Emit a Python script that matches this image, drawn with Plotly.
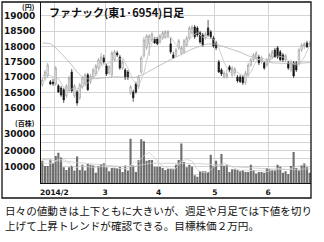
import plotly.graph_objects as go
import pandas as pd

# ---------------- data ----------------
holidays = ["2014-02-11", "2014-03-21", "2014-04-29", "2014-05-05", "2014-05-06"]
dates = [d for d in pd.bdate_range("2014-01-27", "2014-06-23")
         if d.strftime("%Y-%m-%d") not in holidays]

opens = [16750, 16950, 17040, 16850, 16840, 16780, 16720, 16650, 16590, 16390,
         16560, 17170, 16390, 16520, 16330, 16690, 16780, 17080, 16850, 17010,
         17110, 17300, 17440, 17630, 17370, 17140, 17080, 17570, 17790, 17660,
         17300, 17240, 17170, 16490, 16520, 16780, 16690, 17170, 17700, 17960,
         18090, 18220, 18250, 18250, 18150, 18280, 18320, 18350, 18090, 17730,
         17730, 17960, 17790, 17830, 18050, 18280, 18450, 18640, 18610, 18450,
         18380, 18280, 18610, 18480, 18280, 18120, 17500, 17240, 17010, 17010,
         17340, 17080, 17140, 17010, 17010, 17010, 16820, 17080, 17400, 17570,
         17630, 17660, 17500, 17470, 17400, 17570, 17660, 17890, 17960, 17830,
         17730, 17570, 17470, 17240, 17470, 17470, 17470, 17890, 18020, 18120,
         18050]
highs = [16980, 17240, 17470, 16910, 16950, 17370, 16780, 16720, 16650, 16780,
         17040, 17270, 16780, 16590, 16820, 17040, 17140, 17140, 17110, 17300,
         17440, 17630, 17790, 17730, 17440, 17400, 17860, 17890, 17860, 17730,
         17570, 17300, 17240, 16750, 16590, 16850, 17080, 17700, 18320, 18410,
         18410, 18480, 18320, 18320, 18410, 18510, 18540, 18540, 18280, 17830,
         17960, 18250, 18020, 18250, 18350, 18670, 18710, 18710, 18670, 18510,
         18450, 18480, 18870, 18540, 18350, 18190, 17570, 17300, 17210, 17240,
         17400, 17370, 17340, 17080, 17080, 17080, 17210, 17470, 17630, 17790,
         17860, 17730, 17700, 17530, 17630, 17790, 17890, 17960, 18020, 17890,
         17790, 17760, 17530, 17570, 17530, 17530, 17960, 18120, 18150, 18190,
         18190]
lows = [16690, 16880, 16980, 16750, 16720, 16720, 16490, 16360, 16160, 16330,
        16490, 16490, 16330, 16070, 16260, 16620, 16720, 16560, 16780, 16950,
        17040, 17240, 17370, 17440, 17040, 17080, 16980, 17500, 17660, 17240,
        17240, 16910, 16910, 16420, 16200, 16460, 16620, 17110, 17630, 17890,
        17700, 18150, 18090, 18050, 18090, 18220, 18250, 18280, 17760, 17600,
        17660, 17890, 17730, 17760, 17990, 18220, 18380, 18250, 18320, 18090,
        17990, 18220, 18320, 18250, 17960, 17890, 17140, 17040, 16950, 16950,
        17170, 17010, 17040, 16820, 16820, 16750, 16750, 17010, 17340, 17500,
        17570, 17400, 17440, 17240, 17340, 17500, 17600, 17630, 17600, 17530,
        17500, 17500, 17240, 17170, 16980, 17170, 17400, 17830, 17920, 17960,
        17990]
closes = [16910, 17170, 17400, 16780, 16790, 17300, 16520, 16420, 16260, 16720,
          16980, 16560, 16720, 16160, 16750, 16980, 17080, 16590, 17040, 17240,
          17370, 17570, 17660, 17500, 17110, 17340, 17790, 17830, 17730, 17300,
          17500, 16980, 16980, 16690, 16330, 16520, 17010, 17630, 18220, 18350,
          18350, 18410, 18120, 18090, 18350, 18450, 18480, 18480, 17830, 17630,
          17890, 18190, 17960, 18190, 18280, 18610, 18640, 18320, 18380, 18150,
          18050, 18410, 18380, 18320, 18020, 17960, 17170, 17110, 17140, 17110,
          17240, 17300, 17270, 16880, 16850, 16820, 17140, 17400, 17570, 17730,
          17790, 17470, 17630, 17300, 17570, 17730, 17830, 17660, 17660, 17570,
          17570, 17700, 17300, 17500, 17040, 17240, 17890, 18050, 18090, 17990,
          18120]
volumes = [13700, 10400, 10400, 14500, 12100, 16600, 18600, 15700, 9600, 8000,
           9600, 10400, 7600, 16200, 8000, 11200, 7600, 11700, 11200, 10800,
           6300, 10400, 11700, 12100, 9600, 7200, 9200, 9200, 9200, 10000,
           6700, 10800, 7600, 27200, 10800, 6700, 14100, 26800, 25600, 13700,
           14100, 14100, 10000, 10000, 10000, 9200, 8000, 8800, 8800, 8400,
           11200, 14100, 24300, 12900, 9600, 11200, 10000, 4700, 3900, 7200,
           7200, 7200, 6700, 17400, 10400, 13700, 8000, 17800, 10400, 11200,
           6700, 8400, 8400, 8000, 7200, 8000, 6700, 6700, 11200, 8000,
           5900, 6700, 6700, 6300, 9200, 8400, 8000, 7600, 11200, 10000,
           6300, 7200, 5500, 10400, 19000, 9200, 7600, 10800, 12100, 9600,
           6300]

# moving averages (day index, value)
ma25_day = [0, 3, 5, 7, 9, 11, 13, 15, 17, 20, 23, 26, 29, 32, 35, 38, 41, 44, 47,
            50, 53, 56, 59, 62, 65, 68, 71, 74, 77, 80, 83, 86, 89, 92, 95, 98, 100]
ma25_val = [18120, 18100, 17960, 17790, 17600, 17400, 17170, 17010, 16950, 16950,
            16980, 17010, 17010, 16990, 17000, 17100, 17250, 17400, 17530,
            17660, 17800, 17920, 18020, 18090, 18080, 17990, 17900, 17820, 17700,
            17610, 17520, 17470, 17450, 17450, 17450, 17460, 17480]
ma5_day = list(range(0, 101, 2))
ma5_val = [17050, 17100, 17010, 16960, 16660, 16580, 16650, 16630, 16740, 16890,
           17060, 17380, 17440, 17480, 17560, 17630, 17300, 16900, 16710, 17140,
           17910, 18290, 18260, 18300, 18320, 18060, 17900, 18100, 18340, 18450,
           18310, 18270, 18240, 17970, 17480, 17150, 17210, 17110, 16990, 17160,
           17530, 17640, 17550, 17610, 17690, 17660, 17560, 17420, 17390, 17660,
           18030]
vma5_day = list(range(0, 101, 2))
vma5_val = [12500, 12000, 12220, 14440, 14520, 12300, 9040, 10360, 10120, 9940,
            9520, 10080, 10020, 9960, 8880, 8860, 8860, 12620, 13280, 16800,
            18860, 15500, 11640, 9440, 8960, 9040, 13360, 14420, 13600, 7880,
            6600, 6440, 9780, 11240, 12060, 10820, 9020, 7740, 7660, 7960,
            7700, 7700, 6960, 7720, 8880, 8620, 8040, 9680, 10340, 11740, 9280]
vma25_day = [0, 5, 10, 15, 20, 25, 30, 35, 40, 45, 50, 55, 60, 65, 70, 75, 80, 85, 90, 95, 100]
vma25_val = [14500, 13800, 13000, 12300, 11500, 10800, 10000, 10300, 12000, 12100,
             12200, 12000, 11800, 11000, 10000, 9600, 9100, 8600, 8300, 8400, 8700]

price_ticks = [16000, 16500, 17000, 17500, 18000, 18500, 19000]
price_labels = ["16000", "16500", "17000", "17500", "18000", "18500", "19000"]
vol_ticks = [5000, 10000, 15000, 20000, 25000, 30000, 35000, 40000]
vol_labels = ["", "10000", "", "20000", "", "30000", "", ""]

title_text = "ファナック(東1·6954)日足"
caption_1 = "日々の値動きは上下ともに大きいが、週足や月足では下値を切り"
caption_2 = "上げて上昇トレンドが確認できる。目標株価２万円。"

# ---------------- figure ----------------
x = list(range(len(dates)))
month_pos, month_txt = [], []
for i in range(1, len(dates)):
    if dates[i].month != dates[i - 1].month:
        month_pos.append(i - 0.5)
        month_txt.append(f"{dates[i].year}/{dates[i].month}" if not month_txt else str(dates[i].month))

fig = go.Figure()
fig.add_trace(go.Candlestick(
    x=x, open=opens, high=highs, low=lows, close=closes,
    increasing=dict(line=dict(color="#9a9a9a", width=0.7), fillcolor="#ffffff"),
    decreasing=dict(line=dict(color="#151515", width=0.7), fillcolor="#151515"),
    whiskerwidth=0, yaxis="y", showlegend=False, hoverinfo="skip"))
fig.add_trace(go.Scatter(x=ma25_day, y=ma25_val, mode="lines",
                         line=dict(color="#b4b4b4", width=0.8), yaxis="y", hoverinfo="skip"))
fig.add_trace(go.Scatter(x=ma5_day, y=ma5_val, mode="lines",
                         line=dict(color="#c4c4c4", width=0.8), yaxis="y", hoverinfo="skip"))
fig.add_trace(go.Bar(x=x, y=volumes, marker=dict(color="#6e6e6e", line=dict(width=0)),
                     yaxis="y2", hoverinfo="skip"))
fig.add_trace(go.Scatter(x=vma25_day, y=vma25_val, mode="lines",
                         line=dict(color="#c8c8c8", width=0.8), yaxis="y2", hoverinfo="skip"))
fig.add_trace(go.Scatter(x=vma5_day, y=vma5_val, mode="lines",
                         line=dict(color="#d2d2d2", width=0.8), yaxis="y2", hoverinfo="skip"))

tick_font = dict(family="DejaVu Sans", size=9, color="#111111", weight="bold")
grid = "#d4d4d4"

fig.update_layout(
    width=324, height=242,
    margin=dict(l=41, r=13, t=2, b=59),
    paper_bgcolor="white", plot_bgcolor="white",
    showlegend=False, bargap=0.2, boxgap=0.25,
    xaxis=dict(range=[-0.5, len(dates) - 0.5], tickvals=month_pos, ticktext=month_txt,
               showgrid=True, gridcolor=grid, gridwidth=1, zeroline=False,
               showline=True, linecolor="#111111", linewidth=1, ticks="",
               anchor="y2", rangeslider=dict(visible=False),
               tickfont=dict(family="DejaVu Sans", size=7.5, color="#111111", weight="bold"),
               ticklabelstandoff=2),
    yaxis=dict(domain=[0.36, 1], range=[15675, 19456], tickvals=price_ticks,
               ticktext=price_labels,
               showgrid=True, gridcolor=grid, gridwidth=1, zeroline=False,
               showline=True, linecolor="#111111", linewidth=1, ticks="",
               tickfont=tick_font, anchor="x", ticklabelstandoff=3),
    yaxis2=dict(domain=[0, 0.36], range=[0, 40000], tickvals=vol_ticks, ticktext=vol_labels,
                showgrid=True, gridcolor=grid, gridwidth=1, zeroline=False,
                showline=True, linecolor="#111111", linewidth=1, ticks="",
                tickfont=tick_font, anchor="x", ticklabelstandoff=3),
)

# frame around the chart
fig.add_shape(type="rect", xref="paper", yref="paper",
              x0=-0.1444, x1=1.0, y0=-0.0829, y1=1.0,
              line=dict(color="#111111", width=1.3), fillcolor="rgba(0,0,0,0)", layer="above")

cjk = "Noto Sans CJK JP"
fig.add_annotation(text=title_text, xref="paper", yref="paper", x=0.024, y=0.942,
                   xanchor="left", yanchor="middle", showarrow=False,
                   font=dict(family=cjk, size=11, color="#111111", weight="bold"))
fig.add_annotation(text="(円)", xref="paper", yref="paper", x=-0.013, y=0.972,
                   xanchor="right", yanchor="middle", showarrow=False,
                   font=dict(family=cjk, size=7, color="#111111", weight="bold"))
fig.add_annotation(text="(百株)", xref="paper", yref="paper", x=-0.013, y=0.332,
                   xanchor="right", yanchor="middle", showarrow=False,
                   font=dict(family=cjk, size=7, color="#111111", weight="bold"))
fig.add_annotation(text=caption_1, xref="paper", yref="paper", x=-0.139, y=-0.152,
                   xanchor="left", yanchor="middle", showarrow=False,
                   font=dict(family=cjk, size=10.6, color="#111111"))
fig.add_annotation(text=caption_2, xref="paper", yref="paper", x=-0.139, y=-0.236,
                   xanchor="left", yanchor="middle", showarrow=False,
                   font=dict(family=cjk, size=10.6, color="#111111"))

fig.write_html("out.html")
